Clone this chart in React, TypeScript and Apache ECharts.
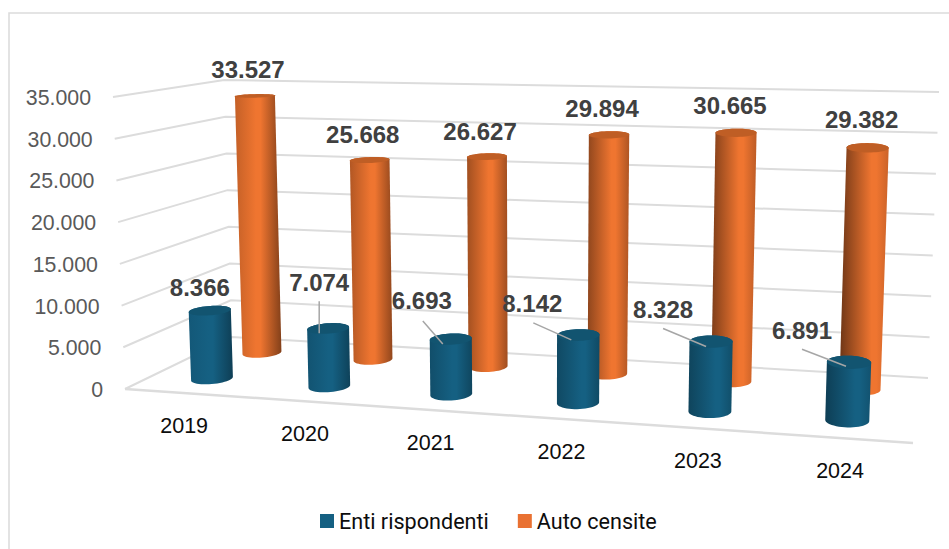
import React, { useEffect, useRef } from "react";
import * as echarts from "echarts";

const years = ["2019", "2020", "2021", "2022", "2023", "2024"];
const entiRispondenti = [8366, 7074, 6693, 8142, 8328, 6891];
const autoCensite = [33527, 25668, 26627, 29894, 30665, 29382];
const yTicks = [0, 5000, 10000, 15000, 20000, 25000, 30000, 35000];
const seriesNames = ["Enti rispondenti", "Auto censite"];

type Pt = [number, number];
const WIDTH = 949;
const HEIGHT = 549;
const SANS = "'Liberation Sans', Arial, sans-serif";
const GRID_LINE = "#dcdcdc";

// Perspective box: floor corners on screen (front-left, front-right, back-right, back-left),
// the on-screen height of the 35.000 plane above them, and the vanishing point of verticals.
const floorQuad: Pt[] = [[125, 389], [913, 443], [928, 378], [232, 337]];
const cornerHeights = [292, 300, 286, 257];
const verticalVanish: Pt = [539, 10459];

function homography(q: Pt[]) {
  const [[x0, y0], [x1, y1], [x2, y2], [x3, y3]] = q;
  const dx1 = x1 - x2, dx2 = x3 - x2, sx = x0 - x1 + x2 - x3;
  const dy1 = y1 - y2, dy2 = y3 - y2, sy = y0 - y1 + y2 - y3;
  const den = dx1 * dy2 - dx2 * dy1;
  const g = (sx * dy2 - dx2 * sy) / den;
  const h = (dx1 * sy - sx * dy1) / den;
  const a = x1 - x0 + g * x1, b = x3 - x0 + h * x3;
  const d = y1 - y0 + g * y1, e = y3 - y0 + h * y3;
  return (u: number, w: number): Pt => {
    const k = g * u + h * w + 1;
    return [(a * u + b * w + x0) / k, (d * u + e * w + y0) / k];
  };
}
const floorMap = homography(floorQuad);
function project(u: number, w: number, h: number): Pt {
  const f = floorMap(u, w);
  const [a, b, c, d] = cornerHeights;
  const H = (a * (1 - u) + b * u) * (1 - w) + (d * (1 - u) + c * u) * w;
  const lean = (verticalVanish[0] - f[0]) / (verticalVanish[1] - f[1]);
  const rise = H * h;
  return [f[0] - lean * rise, f[1] - rise];
}

function hull(points: Pt[]): Pt[] {
  const p = [...points].sort((a, b) => a[0] - b[0] || a[1] - b[1]);
  const cross = (o: Pt, a: Pt, b: Pt) =>
    (a[0] - o[0]) * (b[1] - o[1]) - (a[1] - o[1]) * (b[0] - o[0]);
  const lo: Pt[] = [];
  for (const q of p) {
    while (lo.length > 1 && cross(lo[lo.length - 2], lo[lo.length - 1], q) <= 0) lo.pop();
    lo.push(q);
  }
  const up: Pt[] = [];
  for (const q of [...p].reverse()) {
    while (up.length > 1 && cross(up[up.length - 2], up[up.length - 1], q) <= 0) up.pop();
    up.push(q);
  }
  return lo.slice(0, -1).concat(up.slice(0, -1));
}

function shade(hex: string, amount: number) {
  const n = parseInt(hex.slice(1), 16);
  const c = [(n >> 16) & 255, (n >> 8) & 255, n & 255].map((v) => Math.round(v * (1 - amount)));
  return `rgb(${c[0]},${c[1]},${c[2]})`;
}

type Look = {
  depth: number;
  shiftU: number;
  color: string;
  cap: string;
  edgeLeft: [number, number];
  edgeRight: [number, number];
  label: Pt[];
  leader: (Pt[] | null)[];
};

const R_U = 0.026;
const R_W = 0.1;

const orangeLook: Look = {
  depth: 0.74,
  shiftU: 0.002,
  color: "#ef7530",
  cap: "#bf5e25",
  edgeLeft: [0.18, 0.55],
  edgeRight: [0.45, 0.15],
  label: [[-7, -26], [-7, -25], [-7, -25], [-7, -26], [-6, -27], [-6, -28]],
  leader: [null, null, null, null, null, null],
};
const blueLook: Look = {
  depth: 0.25,
  shiftU: 0.001,
  color: "#156082",
  cap: "#125470",
  edgeLeft: [0.08, 0.35],
  edgeRight: [0.35, 0.15],
  label: [[-10, -23], [-9, -46], [-29, -39], [-46, -31], [-48, -32], [-47, -32]],
  leader: [
    null,
    [[-9, -27], [-9, 5]],
    [[-28, -18], [-8, 5]],
    [[-45, -12], [-7, 5]],
    [[-48, -13], [-5, 5]],
    [[-47, -13], [-3, 4]],
  ],
};

const itLabel = (v: number) => String(v).replace(/\B(?=(\d{3})+$)/g, ".");

function barRenderer(look: Look) {
  return (params: any, api: any) => {
    const cs = params.coordSys;
    const i = api.value(0) as number;
    const value = api.value(1) as number;
    const c = api.coord([i, value]);
    const u = (c[0] - cs.x) / cs.width + look.shiftU;
    const h = (cs.y + cs.height - c[1]) / cs.height;
    const bottom: Pt[] = [];
    const top: Pt[] = [];
    for (let k = 0; k < 48; k++) {
      const a = (k / 48) * Math.PI * 2;
      const bu = u + R_U * Math.cos(a);
      const bw = look.depth + R_W * Math.sin(a);
      bottom.push(project(bu, bw, 0));
      top.push(project(bu, bw, h));
    }
    const t = i / 5;
    const mix = (e: [number, number]) => e[0] + (e[1] - e[0]) * t;
    const fill = new echarts.graphic.LinearGradient(0, 0, 1, 0, [
      { offset: 0, color: shade(look.color, mix(look.edgeLeft)) },
      { offset: 0.45 + 0.2 * t, color: look.color },
      { offset: 0.55 + 0.2 * t, color: look.color },
      { offset: 1, color: shade(look.color, mix(look.edgeRight)) },
    ]);
    const centre = project(u, look.depth, h);
    const off = look.label[i];
    const children: any[] = [
      { type: "polygon", shape: { points: hull(bottom.concat(top)) }, style: { fill } },
      { type: "polygon", shape: { points: top }, style: { fill: look.cap } },
    ];
    const lead = look.leader[i];
    if (lead) {
      children.push({
        type: "line",
        shape: {
          x1: centre[0] + lead[0][0],
          y1: centre[1] + lead[0][1],
          x2: centre[0] + lead[1][0],
          y2: centre[1] + lead[1][1],
        },
        style: { stroke: "#a6a6a6", lineWidth: 1.5 },
      });
    }
    children.push({
      type: "text",
      style: {
        text: itLabel(value),
        x: centre[0] + off[0],
        y: centre[1] + off[1],
        align: "center",
        verticalAlign: "middle",
        fontFamily: SANS,
        fontWeight: "bold",
        fontSize: 24,
        fill: "#404040",
      },
    });
    return { type: "group", children };
  };
}

function wallRenderer(params: any, api: any) {
  const cs = params.coordSys;
  const value = api.value(1) as number;
  const c = api.coord([0, value]);
  const h = (cs.y + cs.height - c[1]) / cs.height;
  const front = project(0, 0, h);
  const corner = project(0, 1, h);
  const right = project(1, 1, h);
  const stroke = { stroke: GRID_LINE, lineWidth: 2 };
  const children: any[] = [
    { type: "polyline", shape: { points: [front, corner, right] }, style: { ...stroke, fill: "none" } },
    {
      type: "text",
      style: {
        text: itLabel(value),
        x: front[0] - 22,
        y: front[1] + 1,
        align: "right",
        verticalAlign: "middle",
        fontFamily: SANS,
        fontSize: 21.3,
        fill: "#595959",
      },
    },
  ];
  if (value === 0) {
    const fr = project(1, 0, 0);
    children.push({
      type: "line",
      shape: { x1: front[0], y1: front[1], x2: fr[0], y2: fr[1] },
      style: { ...stroke, lineWidth: 2.5 },
    });
  }
  return { type: "group", children };
}

function yearRenderer(params: any, api: any) {
  const cs = params.coordSys;
  const i = api.value(0) as number;
  const c = api.coord([i, 0]);
  const u = (c[0] - cs.x) / cs.width;
  const p = project(u, 0, 0);
  return {
    type: "text",
    style: {
      text: years[i],
      x: p[0] + 0.5,
      y: p[1] + 33,
      align: "center",
      verticalAlign: "middle",
      fontFamily: SANS,
      fontSize: 21.5,
      fill: "#0d0d0d",
    },
  };
}

export default function App() {
  const ref = useRef<HTMLDivElement>(null);
  useEffect(() => {
    const chart = echarts.init(ref.current!, undefined, { renderer: "svg" });
    chart.setOption({
      animation: false,
      backgroundColor: "#ffffff",
      grid: { left: 0, right: 0, top: 0, bottom: 0 },
      xAxis: { type: "category", data: years, show: false },
      yAxis: { type: "value", min: 0, max: 35000, interval: 5000, show: false },
      legend: {
        data: seriesNames,
        left: 320,
        top: 510,
        padding: 0,
        icon: "rect",
        itemWidth: 14,
        itemHeight: 14,
        itemGap: 29,
        selectedMode: false,
        textStyle: { fontFamily: "Roboto, 'Noto Sans', sans-serif", fontSize: 21.6, color: "#0d0d0d" },
      },
      graphic: [
        {
          type: "polyline",
          shape: { points: [[9, HEIGHT], [9, 13], [WIDTH, 13]] },
          style: { stroke: GRID_LINE, lineWidth: 1.6, fill: "none" },
          silent: true,
        },
      ],
      series: [
        {
          type: "custom",
          z: 1,
          silent: true,
          renderItem: wallRenderer,
          data: yTicks.map((v) => [0, v]),
          encode: { x: 0, y: 1 },
        },
        {
          type: "custom",
          z: 1,
          silent: true,
          renderItem: yearRenderer,
          data: years.map((_, i) => [i, 0]),
          encode: { x: 0, y: 1 },
        },
        {
          type: "custom",
          name: seriesNames[1],
          z: 2,
          silent: true,
          itemStyle: { color: "#e97132" },
          renderItem: barRenderer(orangeLook),
          data: autoCensite.map((v, i) => [i, v]),
          encode: { x: 0, y: 1 },
        },
        {
          type: "custom",
          name: seriesNames[0],
          z: 3,
          silent: true,
          itemStyle: { color: "#156082" },
          renderItem: barRenderer(blueLook),
          data: entiRispondenti.map((v, i) => [i, v]),
          encode: { x: 0, y: 1 },
        },
      ],
    });
    return () => chart.dispose();
  }, []);
  return (
    <div
      ref={ref}
      style={{ position: "fixed", left: 0, top: 0, width: WIDTH, height: HEIGHT }}
    />
  );
}
